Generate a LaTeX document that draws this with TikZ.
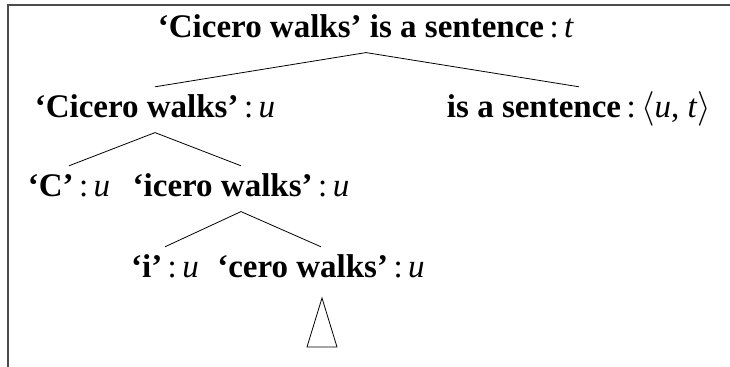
\documentclass[tikz,border=0pt]{standalone}
\usepackage{fontspec}
\setmainfont{Liberation Serif}
\usetikzlibrary{positioning}
\tikzstyle{lbl}=[inner sep=3pt, text height=12.4pt, text depth=4.1pt, font=\fontsize{16.5}{20}\selectfont\bfseries]
\tikzstyle{br}=[thin, black]
\newcommand{\ofty}[1]{{\mdseries\,:\,\textit{#1}}}

\begin{document}
\begin{tikzpicture}
[x=0.5pt, y=-0.5pt]
 \useasboundingbox (0,0) rectangle (730,367);
 \draw[gray!60!black, line width=1pt] (8,367) -- (8,5) -- (730,5);
 \node[lbl, anchor=base] (s) at (366,38) {‘Cicero walks’ is a sentence\ofty{t}};
 \node[lbl, anchor=base] (cw) at (155,118) {‘Cicero walks’\ofty{u}};
 \node[lbl, anchor=base] (ias) at (579,118) {is a sentence{\mdseries\,:\,$\langle$\textit{u}, \textit{t}$\rangle$}};
 \node[lbl, anchor=base] (c) at (69,197) {‘C’\ofty{u}};
 \node[lbl, anchor=base] (icw) at (241,197) {‘icero walks’\ofty{u}};
 \node[lbl, anchor=base] (i) at (165,278) {‘i’\ofty{u}};
 \node[lbl, anchor=base] (ccw) at (321,278) {‘cero walks’\ofty{u}};
 \path[br]
   (s.south) edge (cw.north)
   (s.south) edge (ias.north)
   (cw.south) edge (c.north)
   (cw.south) edge (icw.north)
   (icw.south) edge (i.north)
   (icw.south) edge (ccw.north);
 % triangle under the last node
 \draw[br] (322,298) -- (307,347) -- (337,347) -- cycle;
\end{tikzpicture}
\end{document}
